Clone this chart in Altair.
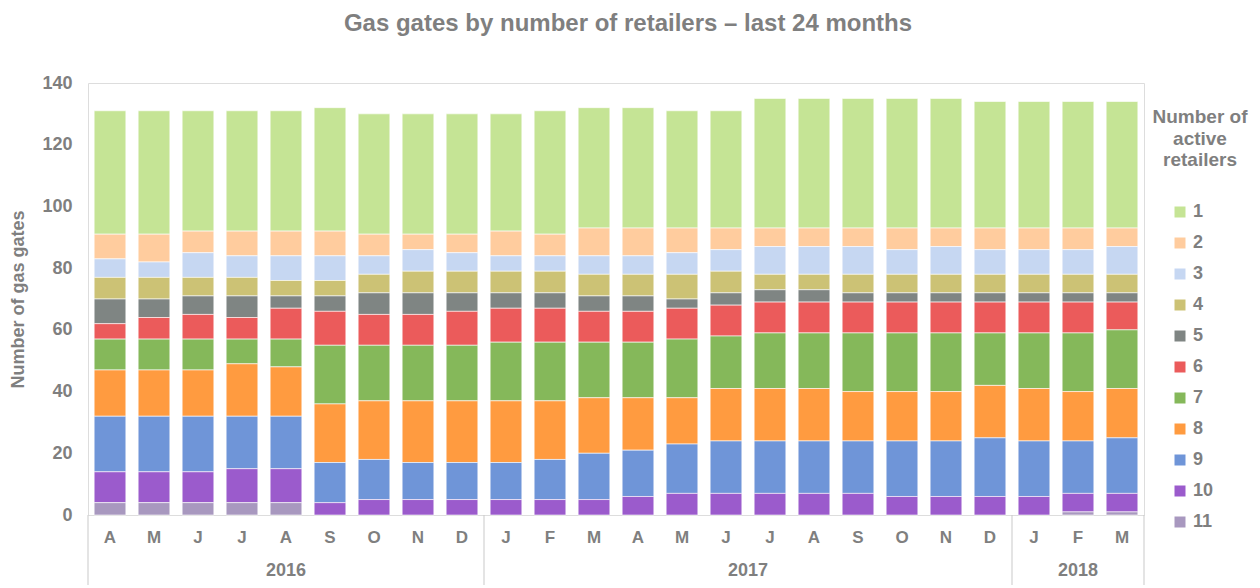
import altair as alt
import pandas as pd

FONT = "Liberation Sans, Arial, sans-serif"
GREY = "#7f7f7f"
LINE = "#c9c9c9"

months = ["A", "M", "J", "J", "A", "S", "O", "N", "D",
          "J", "F", "M", "A", "M", "J", "J", "A", "S", "O", "N", "D",
          "J", "F", "M"]
years = ["2016"] * 9 + ["2017"] * 12 + ["2018"] * 3

categories = ["1", "2", "3", "4", "5", "6", "7", "8", "9", "10", "11"]
colors = ["#c5e495", "#ffcc9e", "#c6d7f2", "#ccc275", "#7f8583", "#eb5b5b",
          "#85b85a", "#ff9b40", "#6f95d8", "#9b5bcc", "#a898bf"]

s1 = [40, 40, 39, 39, 39, 40, 39, 39, 39, 38, 40, 39, 39, 38, 38, 42, 42, 42, 42, 42, 41, 41, 41, 41]
s2 = [8, 9, 7, 8, 8, 8, 7, 5, 6, 8, 7, 9, 9, 8, 7, 6, 6, 6, 7, 6, 7, 7, 7, 6]
s3 = [6, 5, 8, 7, 8, 8, 6, 7, 6, 5, 5, 6, 6, 7, 7, 9, 9, 9, 8, 9, 8, 8, 8, 9]
s4 = [7, 7, 6, 6, 5, 5, 6, 7, 7, 7, 7, 7, 7, 8, 7, 5, 5, 6, 6, 6, 6, 6, 6, 6]
s5 = [8, 6, 6, 7, 4, 5, 7, 7, 6, 5, 5, 5, 5, 3, 4, 4, 4, 3, 3, 3, 3, 3, 3, 3]
s6 = [5, 7, 8, 7, 10, 11, 10, 10, 11, 11, 11, 10, 10, 10, 10, 10, 10, 10, 10, 10, 10, 10, 10, 9]
s7 = [10, 10, 10, 8, 9, 19, 18, 18, 18, 19, 19, 18, 18, 19, 17, 18, 18, 19, 19, 19, 17, 18, 19, 19]
s8 = [15, 15, 15, 17, 16, 19, 19, 20, 20, 20, 19, 18, 17, 15, 17, 17, 17, 16, 16, 16, 17, 17, 16, 16]
s9 = [18, 18, 18, 17, 17, 13, 13, 12, 12, 12, 13, 15, 15, 16, 17, 17, 17, 17, 18, 18, 19, 18, 17, 18]
s10 = [10, 10, 10, 11, 11, 4, 5, 5, 5, 5, 5, 5, 6, 7, 7, 7, 7, 7, 6, 6, 6, 6, 6, 6]
s11 = [4, 4, 4, 4, 4, 0, 0, 0, 0, 0, 0, 0, 0, 0, 0, 0, 0, 0, 0, 0, 0, 0, 1, 1]

series = [s1, s2, s3, s4, s5, s6, s7, s8, s9, s10, s11]

# unique ordinal keys: 2-digit position + month letter (e.g. "00A")
keys = [f"{i:02d}{m}" for i, m in enumerate(months)]

rows = []
for cat, vals in zip(categories, series):
    for k, v in zip(keys, vals):
        rows.append({"key": k, "n": cat, "rank": int(cat), "value": v})
df = pd.DataFrame(rows)

mdf = pd.DataFrame({"key": keys, "month": months})

# year groups
groups = []
for y in sorted(set(years)):
    idx = [i for i, yy in enumerate(years) if yy == y]
    first, cnt = idx[0], len(idx)
    groups.append({"year": y, "first": keys[first], "mid": keys[first + cnt // 2],
                   "even": cnt % 2 == 0})
gdf = pd.DataFrame(groups)
end_df = pd.DataFrame({"last": [keys[-1]]})

W, H = 1056, 432
xscale = alt.Scale(domain=keys, paddingInner=0, paddingOuter=0)

bars = alt.Chart(df).transform_filter("datum.value > 0").mark_bar(
    width=alt.RelativeBandSize(0.72), stroke="white", strokeWidth=0.6
).encode(
    x=alt.X("key:O", scale=xscale, sort=keys,
            axis=alt.Axis(title=None, labels=False, ticks=False, domainColor=LINE,
                          domainWidth=1)),
    y=alt.Y("value:Q", stack="zero", scale=alt.Scale(domain=[0, 140], nice=False),
            axis=alt.Axis(title="Number of gas gates", values=list(range(0, 141, 20)),
                          grid=False, domain=False, ticks=False, labelFontSize=18,
                          labelFontWeight="bold", labelColor=GREY, labelPadding=16,
                          labelFont=FONT, titleFont=FONT, titleFontSize=18,
                          titleFontWeight="bold", titleColor=GREY, titlePadding=14)),
    color=alt.Color("n:N", scale=alt.Scale(domain=categories, range=colors),
                    legend=alt.Legend(title=["Number of", "active", "retailers"],
                                      orient="none", legendX=1065, legendY=25,
                                      titleAnchor="middle", titleAlign="center",
                                      titleFont=FONT, titleFontSize=19, titleFontWeight="bold",
                                      titleColor=GREY, titleLineHeight=21.5, titlePadding=33,
                                      labelFont=FONT, labelFontSize=18, labelFontWeight="bold",
                                      labelColor=GREY, symbolType="square", symbolSize=121,
                                      symbolStrokeWidth=0, symbolOffset=-16, rowPadding=13,
                                      labelOffset=4)),
    order=alt.Order("rank:Q", sort="descending"),
)

month_text = alt.Chart(mdf).mark_text(
    font=FONT, fontSize=17, fontWeight="bold", color=GREY, baseline="middle", align="center"
).encode(
    x=alt.X("key:O", scale=xscale, axis=None),
    y=alt.value(H + 23), text="month:N",
)

sep = alt.Chart(gdf).mark_rule(color=LINE, strokeWidth=1).encode(
    x=alt.X("first:O", scale=xscale, axis=None, bandPosition=0),
    y=alt.value(H), y2=alt.value(H + 75),
)
sep_end = alt.Chart(end_df).mark_rule(color=LINE, strokeWidth=1).encode(
    x=alt.X("last:O", scale=xscale, axis=None, bandPosition=1),
    y=alt.value(H), y2=alt.value(H + 75),
)

ytext_style = dict(font=FONT, fontSize=18, fontWeight="bold", color=GREY, baseline="middle",
                   align="center")
year_odd = alt.Chart(gdf).transform_filter("!datum.even").mark_text(**ytext_style).encode(
    x=alt.X("mid:O", scale=xscale, axis=None, bandPosition=0.5),
    y=alt.value(H + 56), text="year:N",
)
year_even = alt.Chart(gdf).transform_filter("datum.even").mark_text(**ytext_style).encode(
    x=alt.X("mid:O", scale=xscale, axis=None, bandPosition=0),
    y=alt.value(H + 56), text="year:N",
)

chart = alt.layer(bars, month_text, sep, sep_end, year_odd, year_even).properties(
    width=W, height=H,
    autosize=alt.AutoSizeParams(type="none"),
    padding={"left": 80, "top": 75, "right": 108, "bottom": 70},
    title=alt.TitleParams("Gas gates by number of retailers – last 24 months",
                          font=FONT, fontSize=24, fontWeight="bold", color=GREY,
                          anchor="middle", offset=38, dx=12),
).configure_view(stroke=None).configure(background="white")

chart.save("out.html", embed_options={"renderer": "svg", "actions": False})
